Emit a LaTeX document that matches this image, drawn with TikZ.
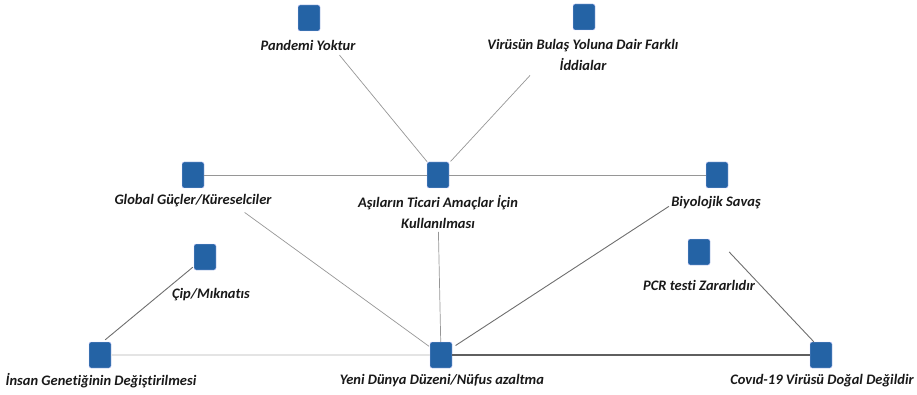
\documentclass[tikz,border=0pt]{standalone}
\usepackage{fontspec}
\setmainfont[Ligatures={NoCommon}]{Carlito}
\begin{document}
\begin{tikzpicture}[x=1pt,y=-1pt,
  sq/.style={draw=white!80!blue, line width=0.4pt, fill={rgb,255:red,36;green,99;blue,165}, rounded corners=2pt, minimum width=22pt, minimum height=26pt, inner sep=0pt},
  lbl/.style={font=\fontsize{14.5}{21}\selectfont\bfseries\itshape, text={rgb,255:red,25;green,25;blue,25}, align=center, inner sep=1pt},
  ln/.style={draw={rgb,255:red,150;green,150;blue,150}, line width=0.7pt},
  lndark/.style={draw={rgb,255:red,110;green,110;blue,110}, line width=0.9pt},
  lnthick/.style={draw={rgb,255:red,95;green,95;blue,95}, line width=1.8pt},
  lnlight/.style={draw={rgb,255:red,228;green,228;blue,228}, line width=1.8pt}]
\useasboundingbox (0,0) rectangle (917,395);
% squares
\node[sq] (pan) at (309,18) {};
\node[sq] (vir) at (584,17) {};
\node[sq] (glo) at (193,175) {};
\node[sq] (asi) at (438,175) {};
\node[sq] (biy) at (717,175) {};
\node[sq] (cip) at (205,257) {};
\node[sq] (pcr) at (699,252) {};
\node[sq] (ins) at (100,355) {};
\node[sq] (yen) at (441,355) {};
\node[sq] (cov) at (821,355) {};
% labels
\node[lbl] (panl) at (308,45) {Pandemi Yoktur};
\node[lbl] (virl) at (583,55) {Virüsün Bulaş Yoluna Dair Farklı\\İddialar};
\node[lbl] (glol) at (193,201) {Global Güçler/Küreselciler};
\node[lbl] (asil) at (438,212) {Aşıların Ticari Amaçlar İçin\\Kullanılması};
\node[lbl] (biyl) at (716,203) {Biyolojik Savaş};
\node[lbl] (cipl) at (211,295) {Çip/Mıknatıs};
\node[lbl] (pcrl) at (699,285) {PCR testi Zararlıdır};
\node[lbl] (insl) at (101,381) {İnsan Genetiğinin Değiştirilmesi};
\node[lbl] (yenl) at (442,381) {Yeni Dünya Düzeni/Nüfus azaltma};
\node[lbl] (covl) at (822,381) {Covıd-19 Virüsü Doğal Değildir};
% connectors
\draw[lnlight] (ins) -- (yen);
\draw[lnthick] (yen) -- (cov);
\draw[ln, shorten <=31pt, shorten >=0pt] (pan) -- (asi);
\draw[ln, shorten <=63pt, shorten >=2pt] (vir) -- (asi);
\draw[ln] (glo) -- (asi);
\draw[ln] (asi) -- (biy);
\draw[ln, shorten <=50pt, shorten >=1pt] (glo) -- (yen);
\draw[ln, shorten <=2pt] (asil) -- (yen);
\draw[lndark, shorten <=44pt, shorten >=4pt] (biy) -- (yen);
\draw[lndark] ([xshift=-1pt,yshift=3pt]cip.south west) -- ([xshift=-6pt,yshift=2pt]ins.north east);
\draw[lndark] ([xshift=19pt]pcr.east) -- ([xshift=4pt]cov.north west);
\end{tikzpicture}
\end{document}
